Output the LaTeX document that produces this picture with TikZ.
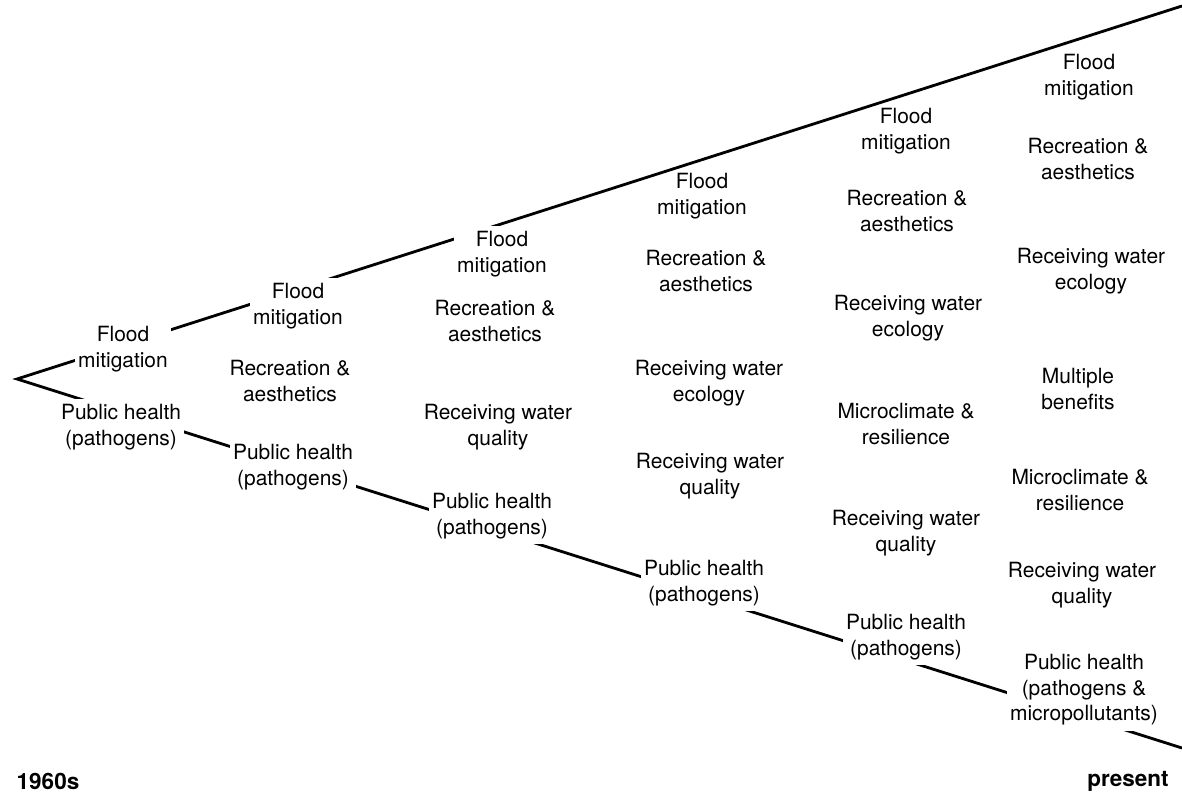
\documentclass[tikz,border=0pt]{standalone}
\usepackage{fontspec}
\setmainfont{TeX Gyre Heros}
\usepackage{tikz}

\begin{document}
\begin{tikzpicture}[x=0.025cm,y=-0.025cm,
		benefit/.style={align=center,inner xsep=2pt,inner ysep=4pt,font=\fontsize{14.9}{18.2}\selectfont},
		gapbox/.style={benefit,fill=white},
		era/.style={font=\fontsize{16}{19}\selectfont\bfseries}]
				\useasboundingbox (0,0) rectangle (1182,799);

				\coordinate (apex) at (17,379);
				\coordinate (topend) at (1182,6);
				\coordinate (botend) at (1182,748);
				\draw[line width=2pt] (topend) -- (apex) -- (botend);

					\draw (123,349) node [gapbox] (flood1) {Flood\\mitigation};
					\draw (298,306) node [gapbox] (flood2) {Flood\\mitigation};
					\draw (502,254) node [gapbox] (flood3) {Flood\\mitigation};
					\draw (702,196) node [benefit] (flood4) {Flood\\mitigation};
					\draw (906,131) node [benefit] (flood5) {Flood\\mitigation};
					\draw (1089,77) node [benefit] (flood6) {Flood\\mitigation};

					\draw (290,381) node [benefit] (recr2) {Recreation \&\\aesthetics};
					\draw (495,321) node [benefit] (recr3) {Recreation \&\\aesthetics};
					\draw (706,271) node [benefit] (recr4) {Recreation \&\\aesthetics};
					\draw (907,211) node [benefit] (recr5) {Recreation \&\\aesthetics};
					\draw (1088,159) node [benefit] (recr6) {Recreation \&\\aesthetics};

					\draw (709,383) node [benefit] (ecol4) {Receiving water\\ecology};
					\draw (908,318) node [benefit] (ecol5) {Receiving water\\ecology};
					\draw (1091,271) node [benefit] (ecol6) {Receiving water\\ecology};

					\draw (1078,389) node [benefit] (multi6) {Multiple\\benefits};

					\draw (906,424) node [benefit] (micro5) {Microclimate \&\\resilience};
					\draw (1080,490) node [benefit] (micro6) {Microclimate \&\\resilience};

					\draw (498,427) node [benefit] (qual3) {Receiving water\\quality};
					\draw (710,476) node [benefit] (qual4) {Receiving water\\quality};
					\draw (906,533) node [benefit] (qual5) {Receiving water\\quality};
					\draw (1082,585) node [benefit] (qual6) {Receiving water\\quality};

					\draw (121,427) node [gapbox] (health1) {Public health\\(pathogens)};
					\draw (293,467) node [gapbox] (health2) {Public health\\(pathogens)};
					\draw (492,516) node [gapbox] (health3) {Public health\\(pathogens)};
					\draw (704,583) node [gapbox] (health4) {Public health\\(pathogens)};
					\draw (906,637) node [gapbox] (health5) {Public health\\(pathogens)};
					\draw (1084,690) node [gapbox] (health6) {Public health\\(pathogens \&\\micropollutants)};

					\draw (48,781) node [era] (start) {1960s};
					\draw (1128,781) node [era] (now) {present};
			\end{tikzpicture}
\end{document}
